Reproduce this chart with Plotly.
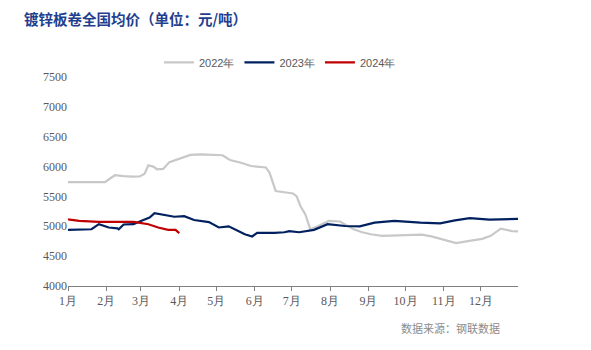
import plotly.graph_objects as go

# 2022 series (dates mapped onto a common year axis)
dates_2022 = ["2022-01-01","2022-01-15","2022-01-31","2022-02-04","2022-02-08","2022-02-15","2022-02-22","2022-02-28",
              "2022-03-04","2022-03-07","2022-03-11","2022-03-14","2022-03-19","2022-03-24","2022-03-31","2022-04-05",
              "2022-04-10","2022-04-18","2022-04-24","2022-04-30","2022-05-06","2022-05-12","2022-05-16","2022-05-21",
              "2022-05-29","2022-06-06","2022-06-10","2022-06-13","2022-06-18","2022-06-25","2022-07-02","2022-07-05",
              "2022-07-08","2022-07-12","2022-07-14","2022-07-16","2022-07-22","2022-07-31","2022-08-09","2022-08-14",
              "2022-08-20","2022-08-27","2022-09-03","2022-09-12","2022-09-22","2022-10-02","2022-10-14","2022-10-22",
              "2022-11-04","2022-11-11","2022-11-23","2022-12-02","2022-12-09","2022-12-17","2022-12-26","2022-12-31"]
vals_2022 = [5740,5735,5740,5800,5855,5840,5830,5835,
             5880,6020,6000,5955,5960,6075,6120,6160,
             6195,6205,6200,6205,6190,6110,6090,6065,
             6010,5985,5985,5900,5590,5570,5550,5500,
             5340,5200,5080,4950,5000,5090,5080,5020,
             4950,4900,4866,4840,4850,4860,4860,4830,
             4750,4720,4760,4790,4840,4960,4920,4915]

dates_2023 = ["2023-01-01","2023-01-10","2023-01-20","2023-01-26","2023-02-03","2023-02-10","2023-02-11","2023-02-15",
              "2023-02-23","2023-03-01","2023-03-08","2023-03-12","2023-03-20","2023-03-28","2023-04-05","2023-04-13",
              "2023-04-25","2023-05-03","2023-05-11","2023-05-15","2023-05-24","2023-05-30","2023-06-03","2023-06-17",
              "2023-06-25","2023-06-29","2023-07-07","2023-07-19","2023-07-30","2023-08-13","2023-08-25","2023-09-06",
              "2023-09-22","2023-10-13","2023-10-29","2023-11-10","2023-11-22","2023-12-08","2023-12-25","2023-12-31"]
vals_2023 = [4940,4945,4950,5035,4980,4965,4950,5030,
             5035,5090,5145,5220,5195,5160,5170,5105,
             5070,4980,5000,4955,4866,4830,4890,4890,
             4900,4920,4900,4940,5035,5005,5000,5060,
             5090,5060,5050,5100,5135,5110,5115,5125]

dates_2024 = ["2024-01-01","2024-01-10","2024-01-26","2024-02-23","2024-02-27","2024-03-07","2024-03-15","2024-03-23",
              "2024-03-29","2024-04-01"]
vals_2024 = [5115,5090,5075,5075,5060,5035,4980,4940,4940,4885]

month_labels = ["1月","2月","3月","4月","5月","6月","7月","8月","9月","10月","11月","12月"]
month_ticks = ["2022-%02d-01" % m for m in range(1, 13)]


def to_common(ds):
    return ["2022" + d[4:] for d in ds]


fig = go.Figure()
fig.add_trace(go.Scatter(x=to_common(dates_2022), y=vals_2022, mode="lines", name="2022年",
                         line=dict(color="#C8C8C8", width=2.2)))
fig.add_trace(go.Scatter(x=to_common(dates_2023), y=vals_2023, mode="lines", name="2023年",
                         line=dict(color="#002060", width=2.2)))
fig.add_trace(go.Scatter(x=to_common(dates_2024), y=vals_2024, mode="lines", name="2024年",
                         line=dict(color="#C00000", width=2.2)))

fig.update_layout(
    width=591, height=350,
    margin=dict(l=68, r=73, t=77, b=64),
    plot_bgcolor="white", paper_bgcolor="white",
    showlegend=True,
    legend=dict(orientation="h", x=0.471, xanchor="center", y=1.07, yanchor="middle",
                font=dict(family="Liberation Sans, Arial", size=11, color="#595959"),
                itemwidth=30, bgcolor="rgba(0,0,0,0)"),
    xaxis=dict(type="date", range=["2022-01-01", "2022-12-31"], tickvals=month_ticks, ticktext=month_labels,
               showgrid=False, showline=True, linecolor="#808080", linewidth=1,
               ticks="outside", ticklen=4, tickcolor="#808080",
               tickfont=dict(family="Liberation Serif, Times New Roman", size=12, color="#595959")),
    yaxis=dict(range=[4000, 7500], tickvals=[4000,4500,5000,5500,6000,6500,7000,7500],
               showgrid=False, showline=False, zeroline=False, ticks="",
               tickfont=dict(family="Liberation Serif, Times New Roman", size=12, color="#595959")),
    annotations=[
        dict(text="<b>镀锌板卷全国均价（单位：元/吨）</b>", xref="paper", yref="paper",
             x=-0.102, y=1.278, xanchor="left", yanchor="middle", showarrow=False,
             font=dict(family="Noto Sans CJK SC", size=14.5, color="#1F3F8F")),
        dict(text="数据来源：钢联数据", xref="paper", yref="paper",
             x=0.849, y=-0.201, xanchor="center", yanchor="middle", showarrow=False,
             font=dict(family="Noto Sans CJK SC", size=11, color="#8C8C8C")),
    ],
)

fig.write_html("out.html")
